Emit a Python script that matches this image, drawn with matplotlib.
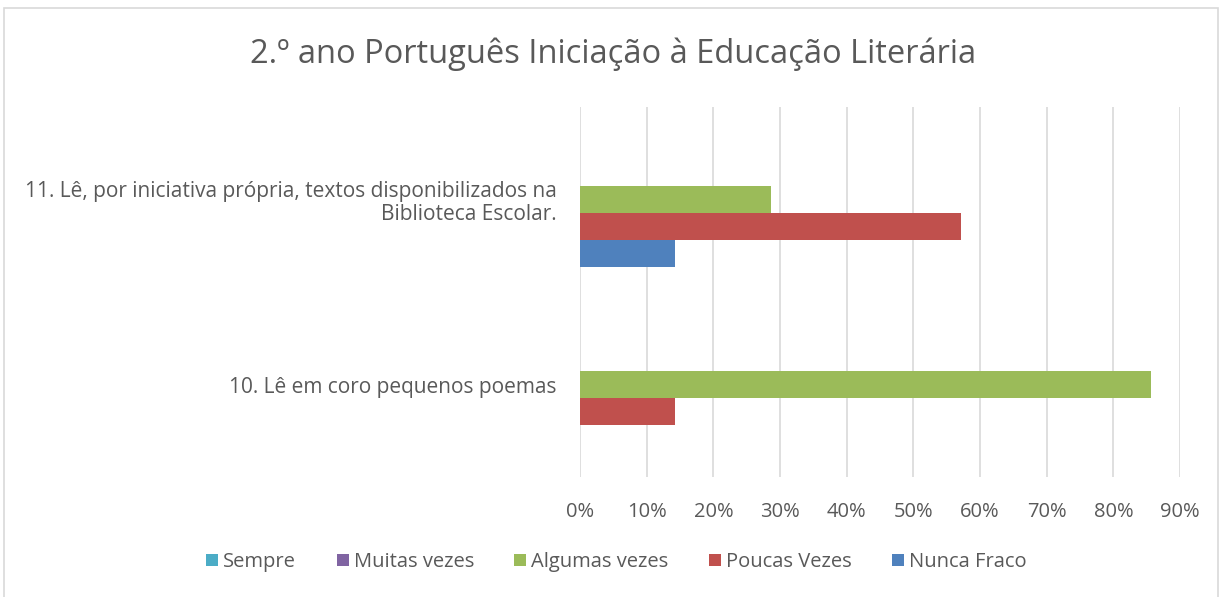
import matplotlib.pyplot as plt
from matplotlib.patches import Rectangle
import numpy as np

# data (fractions)
categories = ["10. Lê em coro pequenos poemas",
              "11. Lê, por iniciativa própria, textos disponibilizados na\nBiblioteca Escolar."]
series = ["Nunca Fraco", "Poucas Vezes", "Algumas vezes", "Muitas vezes", "Sempre"]
values = {
    "Nunca Fraco":   [0.0, 0.143],
    "Poucas Vezes":  [0.143, 0.571],
    "Algumas vezes": [0.857, 0.286],
    "Muitas vezes":  [0.0, 0.0],
    "Sempre":        [0.0, 0.0],
}
colors = {
    "Nunca Fraco":   "#4F81BD",
    "Poucas Vezes":  "#C0504D",
    "Algumas vezes": "#9BBB59",
    "Muitas vezes":  "#8064A2",
    "Sempre":        "#4BACC6",
}
xticks = np.arange(0, 0.91, 0.1)

plt.rcParams['font.family'] = ['Open Sans', 'DejaVu Sans']
txt = "#595959"

fig = plt.figure(figsize=(12.21, 5.97), dpi=100)
ax = fig.add_axes([580/1221, 1 - 477/597, 600/1221, 370/597])

# outer chart border
fig.patches.append(Rectangle((4/1221, -0.05), 1214/1221, 1.05 - 8/597, transform=fig.transFigure,
                             fill=False, edgecolor="#D9D9D9", linewidth=1.2))

y = np.arange(len(categories))
h = 0.147
handles = {}
for i, s in enumerate(series):
    handles[s] = ax.barh(y + (i - 2) * h, values[s], height=h, color=colors[s], label=s)

ax.set_xlim(0, 0.9)
ax.set_ylim(-0.5, 1.5)
ax.set_xticks(xticks)
ax.set_xticklabels([f"{int(round(t*100))}%" for t in xticks], fontsize=14.5, color=txt)
ax.set_yticks(y)
ax.set_yticklabels(categories, fontsize=15, color=txt, ha="right",
                   multialignment="right", linespacing=1.1)
ax.tick_params(axis="both", length=0)
ax.tick_params(axis="y", pad=17)
ax.tick_params(axis="x", pad=18)
ax.grid(axis="x", color="#D9D9D9", linewidth=1.2)
ax.set_axisbelow(True)
for sp in ax.spines.values():
    sp.set_visible(False)

fig.text(0.502, 1 - 54/597, "2.º ano Português Iniciação à Educação Literária",
         ha="center", va="center", fontsize=23.5, color=txt)

order = ["Sempre", "Muitas vezes", "Algumas vezes", "Poucas Vezes", "Nunca Fraco"]
fig.legend([handles[s] for s in order], order, loc="center", ncol=5,
           bbox_to_anchor=(0.505, 1 - 562/597), frameon=False, fontsize=14.5,
           labelcolor=txt, handlelength=0.6, handleheight=0.6, handletextpad=0.25,
           columnspacing=2.0)

fig.savefig("out.png", dpi=100)
